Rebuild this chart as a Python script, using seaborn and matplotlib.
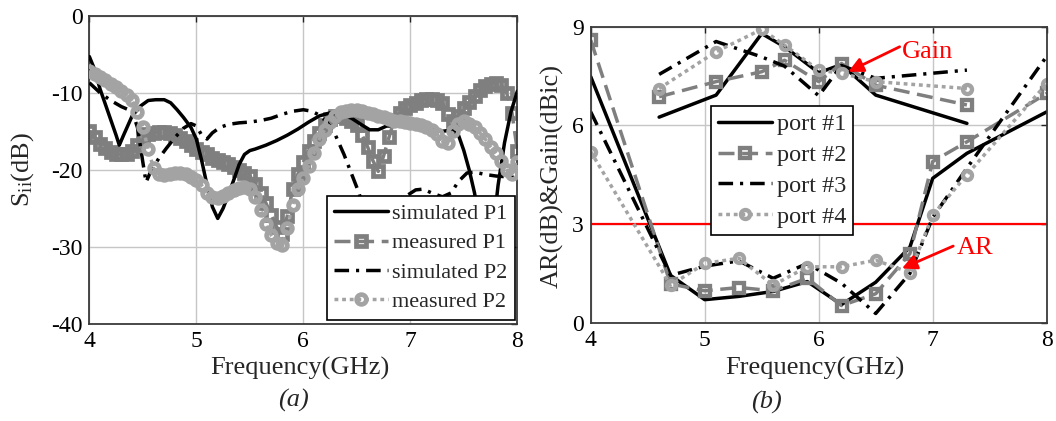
import numpy as np
import pandas as pd
import matplotlib
matplotlib.use("Agg")
import matplotlib.pyplot as plt
import seaborn as sns

# ---------------- (a) reflection coefficients ----------------
f_sim_p1 = [4.00, 4.05, 4.10, 4.15, 4.20, 4.25, 4.28, 4.32, 4.40, 4.48, 4.55, 4.62, 4.70,
            4.76, 4.82, 4.88, 4.95, 5.00, 5.05, 5.10, 5.15, 5.20, 5.25, 5.30, 5.35, 5.40,
            5.45, 5.50, 5.55, 5.65, 5.75, 5.85, 5.95, 6.05, 6.15, 6.25, 6.35, 6.45, 6.55,
            6.62, 6.70, 6.78, 6.90, 7.00, 7.10, 7.20, 7.30, 7.40, 7.45, 7.50, 7.55, 7.60,
            7.65, 7.70, 7.74, 7.78, 7.82, 7.88, 7.94, 8.00]
s_sim_p1 = [-5.3, -7.0, -9.5, -11.5, -13.5, -15.5, -16.8, -15.5, -13.0, -11.7, -11.0, -10.9, -10.9,
            -11.3, -12.2, -13.2, -14.5, -16.0, -18.8, -22.0, -24.8, -26.3, -25.0, -23.2, -21.3, -19.3,
            -18.0, -17.5, -17.3, -16.8, -16.2, -15.5, -14.7, -13.8, -13.0, -12.6, -12.8, -13.3, -14.2,
            -14.8, -14.8, -14.3, -14.2, -14.4, -14.6, -14.8, -15.0, -14.8, -15.5, -17.5, -20.0, -23.0,
            -27.0, -31.0, -32.0, -27.0, -22.0, -16.5, -12.5, -9.8]

f_sim_p2 = [4.00, 4.10, 4.20, 4.30, 4.40, 4.45, 4.50, 4.53, 4.58, 4.65, 4.72, 4.80, 4.88,
            4.95, 5.00, 5.05, 5.10, 5.15, 5.22, 5.30, 5.40, 5.50, 5.60, 5.70, 5.80, 5.90,
            6.00, 6.08, 6.15, 6.22, 6.30, 6.38, 6.45, 6.52, 6.58, 6.65, 6.72, 6.80, 6.88,
            6.95, 7.05, 7.12, 7.20, 7.30, 7.38, 7.45, 7.53, 7.60, 7.70, 7.80, 7.90, 8.00]
s_sim_p2 = [-8.7, -10.0, -11.0, -11.8, -12.4, -14.5, -19.0, -21.6, -20.0, -18.5, -17.2, -15.8, -14.6,
            -14.0, -14.3, -15.5, -16.0, -15.2, -14.5, -14.1, -13.9, -13.8, -13.6, -13.3, -12.8, -12.4,
            -12.2, -12.4, -12.9, -13.8, -15.5, -18.0, -20.5, -23.0, -26.0, -28.5, -29.0, -27.5, -25.0,
            -23.5, -22.6, -22.5, -23.0, -23.5, -23.0, -21.5, -20.4, -20.3, -20.6, -20.8, -20.9, -21.0]

f_meas = [4.00, 4.05, 4.10, 4.15, 4.20, 4.25, 4.30, 4.35, 4.40, 4.45, 4.50, 4.55, 4.60, 4.65,
          4.70, 4.75, 4.80, 4.85, 4.90, 4.95, 5.00, 5.05, 5.10, 5.15, 5.20, 5.25, 5.30, 5.35,
          5.40, 5.45, 5.50, 5.55, 5.60, 5.65, 5.70, 5.75, 5.80, 5.85, 5.90, 5.95, 6.00, 6.05,
          6.10, 6.15, 6.20, 6.25, 6.30, 6.35, 6.40, 6.45, 6.50, 6.55, 6.60, 6.65, 6.70, 6.75,
          6.80, 6.85, 6.90, 6.95, 7.00, 7.05, 7.10, 7.15, 7.20, 7.25, 7.30, 7.35, 7.40, 7.45,
          7.50, 7.55, 7.60, 7.65, 7.70, 7.75, 7.80, 7.85, 7.90, 7.95, 8.00]
s_meas_p1 = [-15.0, -15.8, -16.6, -17.2, -17.7, -17.9, -18.0, -17.9, -17.6, -16.8, -15.8, -15.3, -15.2, -15.1,
             -15.1, -15.2, -15.5, -15.9, -16.3, -16.8, -17.3, -17.7, -18.0, -18.4, -18.7, -19.0, -19.3, -19.6,
             -20.0, -20.4, -20.8, -21.8, -23.0, -24.3, -25.8, -27.4, -28.3, -26.0, -22.5, -20.5, -19.0, -17.5,
             -16.2, -15.2, -14.2, -13.4, -13.0, -13.0, -13.3, -13.6, -14.2, -15.5, -17.0, -18.8, -20.2, -18.2,
             -15.8, -13.5, -12.6, -12.0, -11.6, -11.3, -11.0, -10.8, -10.8, -10.9, -11.3, -12.8, -13.7, -13.0,
             -12.0, -11.2, -10.4, -9.6, -9.1, -8.9, -8.7, -9.0, -10.0, -12.6, -17.5]
s_meas_p2 = [-7.2, -7.5, -7.9, -8.3, -8.8, -9.3, -9.8, -10.3, -11.0, -12.5, -14.5, -17.3, -19.8, -20.5,
             -20.7, -20.6, -20.4, -20.4, -20.6, -20.9, -21.3, -22.0, -23.0, -23.5, -23.6, -23.4, -23.0, -22.6,
             -22.3, -22.2, -22.5, -23.5, -25.2, -27.0, -28.5, -29.5, -29.8, -27.5, -24.5, -22.5, -21.0, -19.5,
             -17.8, -16.0, -14.8, -13.8, -13.0, -12.5, -12.3, -12.2, -12.2, -12.4, -12.6, -12.8, -13.0, -13.2,
             -13.4, -13.6, -13.7, -13.8, -13.9, -14.0, -14.2, -14.4, -14.8, -15.4, -16.2, -16.5, -15.0, -14.0,
             -13.7, -14.0, -14.5, -15.2, -16.0, -17.0, -17.8, -18.8, -20.0, -20.5, -19.0]

# ---------------- (b) axial ratio and gain ----------------
f_ar = [4.0, 4.7, 5.0, 5.3, 5.6, 5.9, 6.2, 6.5, 6.8, 7.0, 7.3, 8.0]
ar_port1 = [7.48, 1.44, 0.70, 0.80, 0.95, 1.25, 0.55, 1.23, 2.30, 4.39, 5.15, 6.41]
ar_port2 = [8.59, 1.18, 0.97, 1.07, 0.97, 1.35, 0.52, 0.88, 2.10, 4.90, 5.50, 6.97]
ar_port3 = [6.41, 1.44, 1.72, 1.88, 1.35, 1.80, 1.20, 0.28, 1.50, 3.20, 4.70, 8.10]
ar_port4 = [5.20, 1.14, 1.80, 1.96, 1.14, 1.70, 1.70, 1.90, 1.52, 3.27, 4.50, 7.27]

f_gain = [4.6, 5.1, 5.5, 5.7, 6.0, 6.2, 6.5, 7.3]
gain_port1 = [6.25, 6.92, 8.79, 8.39, 7.60, 7.85, 6.92, 6.06]
gain_port2 = [6.87, 7.33, 7.63, 7.98, 7.33, 7.88, 7.22, 6.62]
gain_port3 = [7.55, 8.55, 8.08, 7.80, 6.90, 7.82, 7.43, 7.68]
gain_port4 = [7.12, 8.24, 8.92, 8.44, 7.68, 7.58, 7.33, 7.12]

ar_limit = 3.0

# ---------------- styling ----------------
sns.set_style("white")
plt.rcParams["font.family"] = ["Liberation Serif", "DejaVu Serif"]
plt.rcParams["mathtext.fontset"] = "custom"
plt.rcParams["mathtext.rm"] = "Liberation Serif"
plt.rcParams["mathtext.it"] = "Liberation Serif:italic"
plt.rcParams["axes.unicode_minus"] = False

BLACK = "#000000"
GRAY = "#7f7f7f"
LIGHT = "#a3a3a3"
LW = 2.5

solid = "-"
dashed = (0, (4.6, 2.2))
dashdot = (0, (4.2, 2.0, 0.9, 2.0))
dotted = (0, (1.1, 1.1))


def draw(ax, x, y, color, ls, marker=None, label=None, z=2, ms=6.0, mew=2.9):
    df = pd.DataFrame({"f": x, "v": y})
    kws = dict(color=color, linestyle=ls, linewidth=LW, zorder=z)
    if marker:
        kws.update(marker=marker, markersize=ms, markerfacecolor="none",
                   markeredgecolor=color, markeredgewidth=mew)
    else:
        kws.update(marker=None)
    sns.lineplot(data=df, x="f", y="v", ax=ax, sort=False, estimator=None,
                 label=label, legend=False, **kws)


def frame(ax):
    ax.grid(True, color="#c6c6c6", linewidth=1.0)
    for sp in ax.spines.values():
        sp.set_color("#3a3a3a")
        sp.set_linewidth(1.3)
    ax.tick_params(direction="in", length=4, width=1.0, top=True, right=True,
                   labelsize=17, pad=5, colors="#222222", labelcolor="black")
    ax.set_axisbelow(True)


fig = plt.figure(figsize=(10.56, 4.21), dpi=100)
ax1 = fig.add_axes([0.0846, 0.2304, 0.4053, 0.7323])
ax2 = fig.add_axes([0.5594, 0.2335, 0.4318, 0.7031])

# ----- panel (a)
draw(ax1, f_meas, s_meas_p1, GRAY, dashed, "s", "measured P1", z=2, ms=7.0, mew=3.4)
draw(ax1, f_sim_p1, s_sim_p1, BLACK, solid, None, "simulated P1", z=3)
draw(ax1, f_sim_p2, s_sim_p2, BLACK, dashdot, None, "simulated P2", z=3)
draw(ax1, f_meas, s_meas_p2, LIGHT, dotted, "o", "measured P2", z=4, ms=7.0, mew=3.4)

ax1.set_xlim(4, 8)
ax1.set_ylim(-40, 0)
ax1.set_xticks([4, 5, 6, 7, 8])
ax1.set_yticks([-40, -30, -20, -10, 0])
frame(ax1)
ax1.set_xlabel("Frequency(GHz)", fontsize=19, va="center")
ax1.xaxis.set_label_coords(0.492, -0.143)
ax1.set_ylabel(r"S$_{\rm ii}$(dB)", fontsize=19, va="center")
ax1.yaxis.set_label_coords(-0.155, 0.5)

h1 = {l.get_label(): l for l in ax1.get_lines()}
order1 = ["simulated P1", "measured P1", "simulated P2", "measured P2"]
leg1 = ax1.legend([h1[k] for k in order1], order1, loc="lower right",
                  bbox_to_anchor=(0.995, 0.013), borderaxespad=0, fontsize=16,
                  frameon=True, fancybox=False, edgecolor="black", framealpha=1,
                  handlelength=2.4, handletextpad=0.2, labelspacing=0.40,
                  borderpad=0.35, numpoints=1)
leg1.get_frame().set_linewidth(1.2)

# ----- panel (b)
ax2.axhline(ar_limit, color="red", linewidth=1.6, zorder=1.5)
series = [
    (ar_port1, gain_port1, BLACK, solid, None, "port #1"),
    (ar_port2, gain_port2, GRAY, dashed, "s", "port #2"),
    (ar_port3, gain_port3, BLACK, dashdot, None, "port #3"),
    (ar_port4, gain_port4, LIGHT, dotted, "o", "port #4"),
]
for i, (ar, g, c, ls, mk, lab) in enumerate(series):
    draw(ax2, f_ar, ar, c, ls, mk, lab, z=2 + i * 0.1, ms=6.5, mew=3.1)
    draw(ax2, f_gain, g, c, ls, mk, None, z=2 + i * 0.1, ms=6.5, mew=3.1)

ax2.set_xlim(4, 8)
ax2.set_ylim(0, 9)
ax2.set_xticks([4, 5, 6, 7, 8])
ax2.set_yticks([0, 3, 6, 9])
frame(ax2)
ax2.set_xlabel("Frequency(GHz)", fontsize=19, va="center")
ax2.xaxis.set_label_coords(0.492, -0.153)
ax2.set_ylabel("AR(dB)&Gain(dBic)", fontsize=19, va="center")
ax2.yaxis.set_label_coords(-0.085, 0.496)

h2 = {l.get_label(): l for l in ax2.get_lines()}
order2 = ["port #1", "port #2", "port #3", "port #4"]
leg2 = ax2.legend([h2[k] for k in order2], order2, loc="upper left",
                  bbox_to_anchor=(0.2635, 0.732), borderaxespad=0, fontsize=17.5,
                  frameon=True, fancybox=False, edgecolor="black", framealpha=1,
                  handlelength=2.2, handletextpad=0.2, labelspacing=0.36,
                  borderpad=0.3, numpoints=1)
leg2.get_frame().set_linewidth(1.2)

arrow = dict(arrowstyle="-|>", color="red", lw=2.0, mutation_scale=22,
             shrinkA=0, shrinkB=0)
ax2.annotate("", xy=(6.26, 7.63), xytext=(6.71, 8.39), arrowprops=arrow, zorder=6)
ax2.text(6.73, 8.24, "Gain", color="red", fontsize=19, va="center", ha="left")
ax2.annotate("", xy=(6.73, 1.65), xytext=(7.18, 2.33), arrowprops=arrow, zorder=6)
ax2.text(7.21, 2.26, "AR", color="red", fontsize=19, va="center", ha="left")

fig.text(293 / 1056, 1 - 400 / 421, "(a)", fontsize=19, style="italic",
         ha="center", va="center")
fig.text(766 / 1056, 1 - 402 / 421, "(b)", fontsize=19, style="italic",
         ha="center", va="center")

fig.savefig("out.png", dpi=100)
